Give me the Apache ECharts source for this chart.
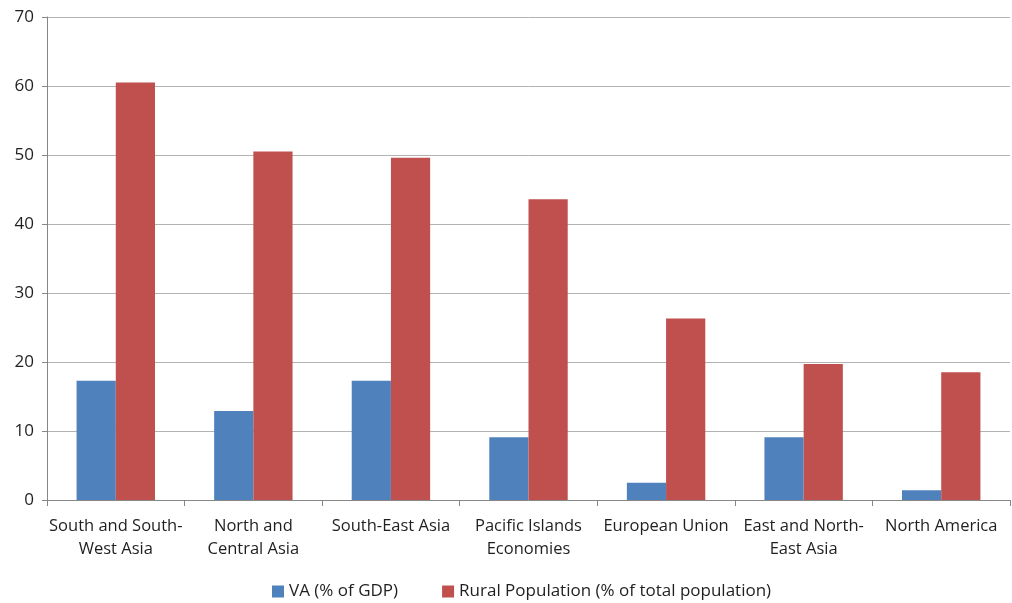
<!DOCTYPE html>
<html><head><meta charset="utf-8">
<script src="https://cdn.jsdelivr.net/npm/echarts@6/dist/echarts.min.js"></script>
<style>html,body{margin:0;padding:0;background:#fff}#c{width:1012px;height:603px}</style>
</head><body><div id="c"></div>
<script>
const categories = ["South and South-West Asia","North and Central Asia","South-East Asia","Pacific Islands Economies","European Union","East and North-East Asia","North America"];
const tickLabels = ["South and South-\nWest Asia","North and\nCentral Asia","South-East Asia","Pacific Islands\nEconomies","European Union","East and North-\nEast Asia","North America"];
const vaGDP = [17.3, 12.9, 17.3, 9.1, 2.5, 9.1, 1.4];
const ruralPop = [60.5, 50.5, 49.6, 43.6, 26.3, 19.7, 18.5];
const seriesNames = ["VA (% of GDP)", "Rural Population (% of total population)"];

const chart = echarts.init(document.getElementById('c'), null, {renderer:'canvas'});
const font = "'Open Sans', 'Noto Sans', sans-serif";
chart.setOption({
  animation:false,
  textStyle:{fontFamily:font},
  grid:{left:47,right:2,top:17,bottom:103,containLabel:false},
  legend:{
    top:583, left:272, itemWidth:12, itemHeight:12, itemGap:44,
    icon:'rect', padding:0,
    textStyle:{fontSize:17,color:'#1f1f1f',fontFamily:font},
    data:seriesNames
  },
  xAxis:{
    type:'category', data:categories,
    axisLine:{lineStyle:{color:'#868686'}},
    axisTick:{show:true,length:6,lineStyle:{color:'#868686'}},
    axisLabel:{
      interval:0, fontSize:16.5, color:'#1f1f1f', lineHeight:23, margin:15,
      formatter:(v,i)=>tickLabels[i]
    }
  },
  yAxis:{
    type:'value', min:0, max:70, interval:10,
    axisLine:{show:true,lineStyle:{color:'#868686'}},
    axisTick:{show:true,length:5,lineStyle:{color:'#868686'}},
    axisLabel:{fontSize:17,color:'#1f1f1f',margin:13},
    splitLine:{lineStyle:{color:'#b3b3b3'}}
  },
  series:[
    {name:seriesNames[0],type:'bar',data:vaGDP,barGap:'0%',barCategoryGap:'43%',itemStyle:{color:'#4f81bd'}},
    {name:seriesNames[1],type:'bar',data:ruralPop,itemStyle:{color:'#c0504d'}}
  ]
});
</script></body></html>
